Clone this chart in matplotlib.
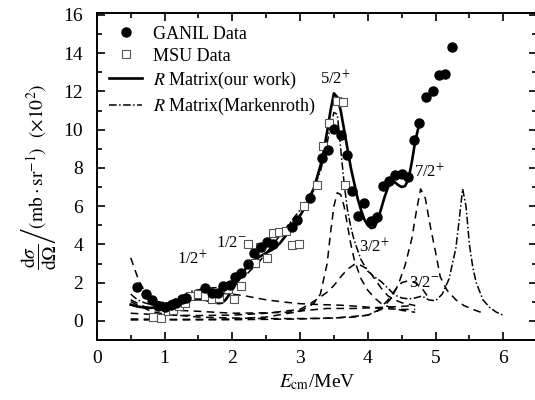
import matplotlib
matplotlib.use("Agg")
import matplotlib.pyplot as plt
from matplotlib.ticker import MultipleLocator

plt.rcParams["font.family"] = ["Liberation Serif", "DejaVu Serif"]
plt.rcParams["mathtext.fontset"] = "stix"

# GANIL data (filled circles)
ganil_e = [0.59, 0.73, 0.82, 0.91, 1.00, 1.10, 1.17, 1.25, 1.31, 1.60, 1.70, 1.79,
           1.86, 1.96, 2.04, 2.13, 2.23, 2.32, 2.42, 2.51, 2.60, 2.88, 2.96, 3.14,
           3.32, 3.41, 3.50, 3.60, 3.69, 3.77, 3.86, 3.95, 4.04, 4.13, 4.23, 4.32,
           4.40, 4.50, 4.60, 4.68, 4.76, 4.86, 4.96, 5.05, 5.14, 5.24]
ganil_y = [1.75, 1.40, 1.10, 0.80, 0.70, 0.85, 0.95, 1.15, 1.20, 1.70, 1.45, 1.45,
           1.80, 1.90, 2.30, 2.50, 3.00, 3.55, 3.85, 4.10, 4.00, 4.90, 5.30, 6.45,
           8.50, 8.95, 10.05, 9.70, 8.65, 6.80, 5.50, 6.15, 5.20, 5.45, 7.05, 7.30,
           7.65, 7.70, 7.50, 9.45, 10.35, 11.70, 12.00, 12.85, 12.90, 14.30]

# MSU data (open squares)
msu_e = [0.83, 0.94, 1.05, 1.12, 1.22, 1.30, 1.37, 1.50, 1.60, 1.70, 1.80, 1.93,
         2.03, 2.13, 2.23, 2.33, 2.41, 2.51, 2.60, 2.69, 2.79, 2.88, 2.98, 3.06,
         3.25, 3.34, 3.43, 3.55, 3.63, 3.67]
msu_y = [0.20, 0.15, 0.50, 0.55, 0.80, 0.95, 1.30, 1.40, 1.30, 1.15, 1.20, 1.65,
         1.15, 1.80, 4.00, 3.05, 3.85, 3.30, 4.60, 4.65, 4.70, 3.95, 4.00, 6.00,
         7.10, 9.15, 10.35, 11.50, 11.45, 7.10]

# R-matrix fit, this work
fit_e = [0.5, 0.6, 0.7, 0.8, 0.9, 1.0, 1.1, 1.2, 1.3, 1.4, 1.5, 1.6, 1.7, 1.8, 1.85,
         1.9, 1.95, 2.0, 2.1, 2.2, 2.3, 2.4, 2.5, 2.6, 2.7, 2.8, 2.9, 3.0, 3.1, 3.2,
         3.3, 3.35, 3.4, 3.45, 3.5, 3.55, 3.6, 3.65, 3.7, 3.75, 3.8, 3.85, 3.9, 3.95,
         4.0, 4.05, 4.1, 4.15, 4.2, 4.25, 4.3, 4.35, 4.4, 4.45, 4.5, 4.55, 4.6, 4.65,
         4.7, 4.76]
fit_y = [0.85, 0.75, 0.70, 0.68, 0.72, 0.80, 0.90, 1.00, 1.08, 1.12, 1.13, 1.10,
         1.00, 0.92, 0.95, 1.10, 1.35, 1.65, 2.20, 2.75, 3.10, 3.35, 3.55, 3.75,
         4.05, 4.50, 4.95, 5.50, 6.10, 6.90, 8.10, 8.90, 9.90, 11.0, 11.9, 11.7,
         11.0, 10.0, 9.0, 8.0, 7.2, 6.4, 5.8, 5.3, 5.0, 4.85, 4.90, 5.30, 5.90,
         6.50, 7.00, 7.25, 7.25, 7.10, 7.00, 7.05, 7.40, 8.30, 9.40, 10.30]

# R-matrix fit, Markenroth
mk_e = [0.5, 0.6, 0.7, 0.8, 0.9, 1.0, 1.2, 1.4, 1.6, 1.8, 2.0, 2.2, 2.4, 2.6, 2.8,
        3.0, 3.2, 3.3, 3.4, 3.45, 3.5, 3.55, 3.6, 3.65, 3.7, 3.75, 3.8, 3.9, 4.0,
        4.1, 4.2, 4.3, 4.4, 4.5, 4.6, 4.7, 4.8, 4.9, 5.0, 5.1, 5.2, 5.3, 5.35, 5.4,
        5.45, 5.5, 5.55, 5.6, 5.7, 5.8, 5.9, 6.0]
mk_y = [1.40, 1.10, 0.95, 0.85, 0.85, 0.90, 1.20, 1.55, 1.70, 1.75, 1.95, 2.40,
        3.10, 4.00, 4.90, 5.80, 6.90, 7.80, 9.30, 10.2, 10.9, 10.8, 9.0, 7.2, 5.8,
        4.9, 4.2, 3.2, 2.6, 2.3, 2.05, 1.70, 1.35, 1.20, 1.15, 1.20, 1.30, 1.10,
        1.05, 1.40, 2.20, 3.80, 5.30, 6.90, 6.00, 4.00, 2.80, 2.00, 1.10, 0.70,
        0.45, 0.30]

# individual resonance contributions (dashed)
half_p_e = [0.5, 0.55, 0.6, 0.65, 0.7, 0.8, 0.9, 1.0, 1.2, 1.4, 1.6, 1.8, 2.0, 2.2,
            2.5, 2.8, 3.0, 3.3, 3.6, 3.9, 4.2, 4.5, 4.7]
half_p_y = [3.3, 2.8, 2.3, 1.9, 1.6, 1.2, 1.0, 0.95, 1.1, 1.3, 1.45, 1.45, 1.4, 1.3,
            1.1, 0.97, 0.9, 0.85, 0.82, 0.75, 0.65, 0.6, 0.6]
half_m_e = [0.5, 0.7, 0.9, 1.2, 1.5, 2.0, 2.5, 2.8, 3.1, 3.4, 3.8, 4.3, 4.7]
half_m_y = [1.1, 0.75, 0.6, 0.55, 0.5, 0.4, 0.42, 0.45, 0.55, 0.65, 0.65, 0.72, 0.8]
f52_e = [0.5, 1.0, 1.5, 2.0, 2.5, 3.0, 3.2, 3.3, 3.4, 3.45, 3.5, 3.55, 3.6, 3.65,
         3.7, 3.75, 3.8, 3.9, 4.0, 4.1, 4.2, 4.3, 4.5, 4.7]
f52_y = [0.10, 0.08, 0.08, 0.10, 0.20, 0.50, 0.90, 1.40, 3.00, 4.60, 6.00, 6.70,
         6.60, 6.00, 5.00, 4.00, 3.20, 2.20, 1.60, 1.20, 0.90, 0.75, 0.55, 0.45]
t32p_e = [0.5, 1.0, 1.5, 2.0, 2.5, 3.0, 3.15, 3.3, 3.4, 3.5, 3.6, 3.7, 3.8, 3.85,
          3.9, 4.0, 4.1, 4.2, 4.3, 4.4, 4.5, 4.7]
t32p_y = [0.40, 0.30, 0.28, 0.30, 0.40, 0.60, 0.90, 1.25, 1.50, 1.85, 2.30, 2.70,
          2.95, 2.97, 2.90, 2.70, 2.20, 1.70, 1.30, 1.10, 0.95, 0.80]
t32m_e = [0.5, 0.8, 1.0, 1.5, 2.0, 2.5, 3.0, 3.5, 3.8, 4.0, 4.15, 4.3, 4.4, 4.5,
          4.6, 4.7, 4.8, 4.9]
t32m_y = [1.0, 0.5, 0.35, 0.2, 0.15, 0.12, 0.12, 0.15, 0.2, 0.3, 0.55, 1.1, 1.6,
          2.0, 2.1, 2.0, 1.7, 1.2]
s72_e = [0.5, 1.0, 2.0, 3.0, 3.5, 4.0, 4.2, 4.35, 4.45, 4.55, 4.65, 4.72, 4.78,
         4.85, 4.92, 5.0, 5.07, 5.17, 5.3, 5.42, 5.55, 5.67]
s72_y = [0.05, 0.05, 0.06, 0.10, 0.15, 0.30, 0.60, 1.20, 1.90, 2.90, 4.30, 5.80,
         6.90, 6.40, 5.00, 3.60, 2.30, 1.60, 1.10, 0.80, 0.60, 0.45]

dashed_curves = [(half_p_e, half_p_y), (half_m_e, half_m_y), (f52_e, f52_y),
                 (t32p_e, t32p_y), (t32m_e, t32m_y), (s72_e, s72_y)]

res_labels = ["1/2$^{+}$", "1/2$^{-}$", "5/2$^{+}$", "3/2$^{+}$", "3/2$^{-}$", "7/2$^{+}$"]
res_x = [1.41, 1.98, 3.53, 4.10, 4.83, 4.91]
res_y = [3.23, 4.05, 12.65, 3.85, 2.00, 7.78]

fig = plt.figure(figsize=(5.35, 4.0), dpi=100)
ax = fig.add_axes([0.181, 0.15, 0.823, 0.8175])

dash = (0, (5, 3.5))
dashdot = (0, (5, 1.6, 1, 1.6))

for xe, ye in dashed_curves:
    ax.plot(xe, ye, color="black", lw=1.1, linestyle=dash)

ax.plot(mk_e, mk_y, color="black", lw=1.1, linestyle=dashdot,
        label=r"$R$ Matrix(Markenroth)")
ax.plot(fit_e, fit_y, color="black", lw=1.9, label=r"$R$ Matrix(our work)")
ax.plot(msu_e, msu_y, linestyle="none", marker="s", ms=6, mfc="white",
        mec="#555555", mew=0.8, label="MSU Data")
ax.plot(ganil_e, ganil_y, linestyle="none", marker="o", ms=6.5, color="black",
        label="GANIL Data")

for txt, xx, yy in zip(res_labels, res_x, res_y):
    ax.text(xx, yy, txt, ha="center", va="center", fontsize=12)

handles, labels = ax.get_legend_handles_labels()
order = [3, 2, 1, 0]
ax.legend([handles[i] for i in order], [labels[i] for i in order],
          loc="upper left", bbox_to_anchor=(0.0, 1.0), frameon=False,
          fontsize=13, handlelength=1.8, numpoints=1, labelspacing=0.28,
          handletextpad=0.6, borderaxespad=0.3)

ax.set_xlim(0, 6.5)
ax.set_ylim(-1, 16.1)
ax.xaxis.set_major_locator(MultipleLocator(1))
ax.xaxis.set_minor_locator(MultipleLocator(0.5))
ax.yaxis.set_major_locator(MultipleLocator(2))
ax.yaxis.set_minor_locator(MultipleLocator(1))
ax.tick_params(which="both", direction="in", top=True, right=True, labelsize=14,
               width=1.2)
ax.tick_params(which="major", length=6)
ax.tick_params(which="minor", length=3.5)
ax.tick_params(axis="y", which="major", pad=10)
ax.tick_params(axis="x", which="major", pad=7)
for sp in ax.spines.values():
    sp.set_linewidth(1.4)

ax.set_xlabel(r"$E_{\mathrm{cm}}$/MeV", fontsize=14, labelpad=4)
ax.set_ylabel(r"$\left.\dfrac{\mathrm{d}\sigma}{\mathrm{d}\Omega}\right/"
              r"(\mathrm{mb}\cdot\mathrm{sr}^{-1})$  $(\times10^{2})$",
              fontsize=14, labelpad=4)

fig.savefig("out.png", dpi=100)
plt.close(fig)
